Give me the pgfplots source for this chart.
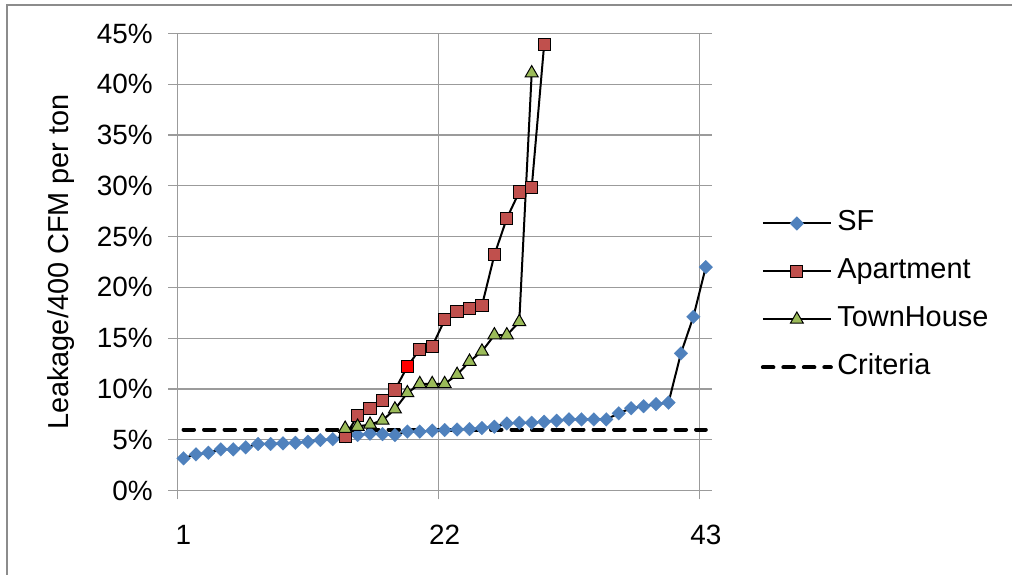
\documentclass[border=0pt]{standalone}
\usepackage{pgfplots}
\pgfplotsset{compat=1.18}
\usepackage{fontspec}
\setmainfont{Liberation Sans}
\definecolor{sfblue}{RGB}{79,129,189}
\definecolor{aptred}{RGB}{192,80,77}
\definecolor{thgreen}{RGB}{155,187,89}
\definecolor{gridgray}{RGB}{155,155,155}
\definecolor{framegray}{RGB}{140,140,140}

\pgfplotstableread{
i v
1 3.17
2 3.56
3 3.72
4 4.05
5 4.05
6 4.25
7 4.58
8 4.58
9 4.64
10 4.70
11 4.80
12 4.97
13 5.05
14 5.35
15 5.46
16 5.60
17 5.55
18 5.45
19 5.80
20 5.80
21 5.90
22 5.95
23 6.00
24 6.05
25 6.15
26 6.28
27 6.60
28 6.67
29 6.67
30 6.77
31 6.87
32 7.00
33 7.00
34 7.00
35 7.00
36 7.60
37 8.10
38 8.30
39 8.50
40 8.65
41 13.5
42 17.1
43 22.0
}\sfdata

\pgfplotstableread{
i v
14 5.3
15 7.4
16 8.1
17 8.9
18 9.9
19 12.2
20 13.9
21 14.2
22 16.8
23 17.6
24 17.9
25 18.2
26 23.2
27 26.8
28 29.4
29 29.8
30 43.9
}\aptdata

\pgfplotstableread{
i v
14 6.1
15 6.3
16 6.5
17 6.9
18 8.0
19 9.6
20 10.5
21 10.5
22 10.5
23 11.4
24 12.7
25 13.7
26 15.3
27 15.3
28 16.6
29 41.1
}\thdata

\begin{document}
\begin{tikzpicture}[x=1bp,y=1bp]
\useasboundingbox (0,0) rectangle (1012,575);
\draw[framegray, line width=2bp] (7,0) -- (7,570) -- (1012,570);
\begin{axis}[
  at={(177.3bp,84.5bp)}, anchor=south west,
  scale only axis, width=534.7bp, height=457bp,
  xmin=0.5, xmax=43.5, ymin=0, ymax=45,
  axis x line=bottom, axis y line=left,
  axis line style={gridgray, line width=1.3bp, -},
  xtick={0.5,21.5,42.5}, xticklabels={1,22,43},
  ytick={0,5,10,15,20,25,30,35,40,45},
  yticklabels={0\%,5\%,10\%,15\%,20\%,25\%,30\%,35\%,40\%,45\%},
  tick align=outside, major tick length=9bp,
  tick style={gridgray, line width=1.3bp},
  grid=major, major grid style={gridgray, line width=1.3bp},
  /pgf/number format/assume math mode=true,
  tick label style={font=\fontsize{28}{33}\selectfont},
  xticklabel style={xshift=6.2bp, yshift=-22bp},
  yticklabel style={xshift=-12bp},
  ylabel={Leakage/400 CFM per ton},
  ylabel style={font=\fontsize{29}{34}\selectfont, at={(axis description cs:-0.2044,0.5)}, anchor=base},
  legend style={at={(axis description cs:1.091,0.4267)}, anchor=west, draw=none, fill=none,
    inner sep=0pt, row sep=21bp, font=\fontsize{29}{34}\selectfont,
    nodes={inner sep=0pt, text height=21bp, text depth=6bp},
    /tikz/every odd column/.append style={column sep=4.5bp}},
  legend cell align=left,
  legend image code/.code={\draw[mark repeat=2,mark phase=2,#1] plot coordinates {(0bp,0bp) (34bp,0bp) (68bp,0bp)};},
]
\addplot[black, line width=2bp, mark=square*, mark size=4.9bp,
  mark options={rotate=45, fill=sfblue, draw=sfblue, line width=0.1bp, solid}] table[x=i,y=v] {\sfdata};
\addlegendentry{SF}
\addplot[black, line width=2bp, mark=square*, mark size=6.1bp,
  mark options={fill=aptred, draw=black, line width=1bp, solid}] table[x=i,y=v] {\aptdata};
\addlegendentry{Apartment}
\addplot[forget plot, only marks, mark=square*, mark size=6.1bp,
  mark options={fill=red, draw=black, line width=1bp}] coordinates {(19,12.2)};
\addplot[black, line width=2bp, mark=triangle*, mark size=7.5bp,
  mark options={fill=thgreen, draw=black, line width=1bp, solid}] table[x=i,y=v] {\thdata};
\addlegendentry{TownHouse}
\addplot[black, line width=4bp, line cap=round, dash pattern=on 10.5bp off 10bp] coordinates {(1,6) (43,6)};
\addlegendentry{Criteria}
\end{axis}
\end{tikzpicture}
\end{document}
